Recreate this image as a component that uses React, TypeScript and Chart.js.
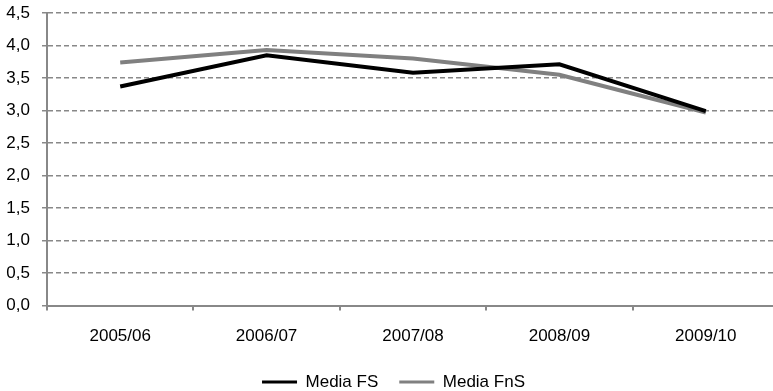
import React, { useEffect, useRef } from "react";
import { Chart, registerables } from "chart.js";

Chart.register(...registerables);

const categories = ["2005/06", "2006/07", "2007/08", "2008/09", "2009/10"];
const mediaFS = [3.37, 3.85, 3.58, 3.71, 2.99];
const mediaFnS = [3.74, 3.93, 3.8, 3.55, 2.97];
const seriesNames = ["Media FS", "Media FnS"];
const yTicks = [0, 0.5, 1, 1.5, 2, 2.5, 3, 3.5, 4, 4.5];

const legendHeightPlugin = {
  id: "legendHeight",
  beforeLayout(chart: any) {
    const lg = chart.legend;
    if (lg && !lg.__patched) {
      const orig = lg.fit.bind(lg);
      lg.fit = function () {
        orig();
        this.height = 38.5;
      };
      lg.__patched = true;
    }
  },
};

export default function App() {
  const ref = useRef<HTMLCanvasElement | null>(null);
  useEffect(() => {
    if (!ref.current) return;
    const font = { family: "'Liberation Sans', Arial, sans-serif", size: 17 };
    const chart = new Chart(ref.current, {
      type: "line",
      plugins: [legendHeightPlugin],
      data: {
        labels: categories,
        datasets: [
          {
            label: seriesNames[0],
            data: mediaFS,
            borderColor: "#000000",
            backgroundColor: "#000000",
            borderWidth: 4,
            pointRadius: 0,
            tension: 0,
          },
          {
            label: seriesNames[1],
            data: mediaFnS,
            borderColor: "#808080",
            backgroundColor: "#808080",
            borderWidth: 4,
            pointRadius: 0,
            tension: 0,
          },
        ],
      },
      options: {
        animation: false,
        responsive: true,
        maintainAspectRatio: false,
        layout: { padding: { left: 6, top: 13, right: 0, bottom: 0 } },
        plugins: {
          tooltip: { enabled: false },
          legend: {
            position: "bottom",
            labels: {
              font,
              color: "#000",
              boxWidth: 35,
              boxHeight: 3,
              padding: 21,
              generateLabels: (c: any) =>
                c.data.datasets.map((d: any, i: number) => ({
                  text: d.label,
                  fillStyle: d.borderColor,
                  strokeStyle: d.borderColor,
                  lineWidth: 0,
                  hidden: false,
                  datasetIndex: i,
                  fontColor: "#000",
                })),
            },
          },
        },
        scales: {
          x: {
            offset: true,
            afterFit: (s: any) => {
              s.height = 47;
            },
            grid: {
              offset: true,
              drawOnChartArea: false,
              drawTicks: true,
              tickLength: 5,
              color: "#888888",
              lineWidth: 2,
            },
            border: { color: "#888888", width: 2 },
            ticks: { font, color: "#000", padding: 16, maxRotation: 0 },
          },
          y: {
            min: 0,
            max: 4.5,
            afterBuildTicks: (s: any) => {
              s.ticks = yTicks.map((v) => ({ value: v }));
            },
            afterFit: (s: any) => {
              s.width = 41;
              s.paddingTop = 0;
              s.paddingBottom = 0;
            },
            grid: {
              color: "#888888",
              lineWidth: 1.5,
              tickLength: 5,
              drawTicks: true,
              tickBorderDash: [0, 0],
            },
            border: { color: "#888888", width: 2, dash: [5, 3] },
            ticks: {
              font,
              color: "#000",
              padding: 12,
              callback: (v: any) => Number(v).toFixed(1).replace(".", ","),
            },
          },
        },
      },
    });
    chart.update();
    return () => chart.destroy();
  }, []);
  return (
    <div style={{ position: "fixed", left: 0, top: 0, width: 773, height: 391, overflow: "hidden", background: "#fff" }}>
      <div style={{ position: "absolute", left: 0, top: 0, width: 781, height: 391 }}>
        <canvas ref={ref} />
      </div>
    </div>
  );
}
